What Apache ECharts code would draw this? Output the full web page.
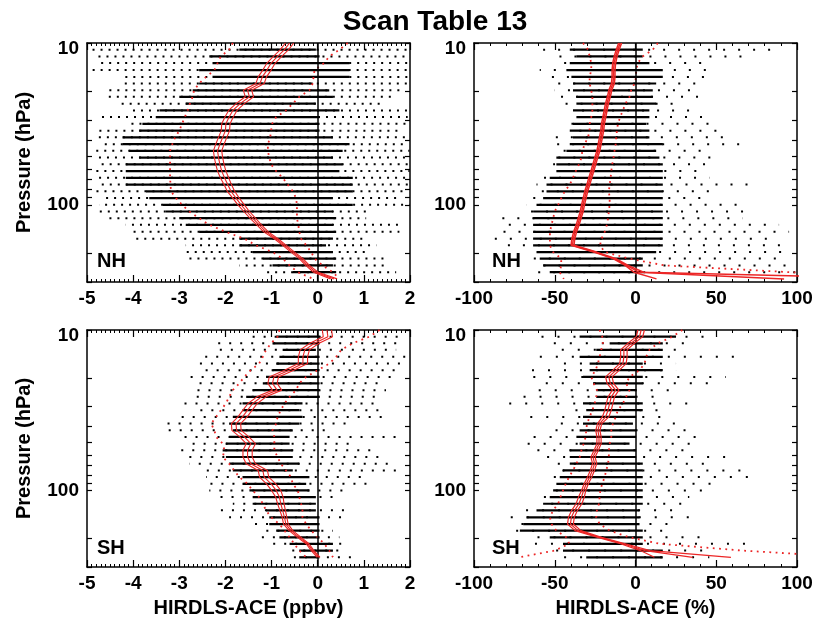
<!DOCTYPE html>
<html>
<head>
<meta charset="utf-8">
<title>Scan Table 13</title>
<script src="https://cdn.jsdelivr.net/npm/echarts@6/dist/echarts.min.js"></script>
<style>
  html, body { margin: 0; padding: 0; background: #fff; }
  #chart { width: 817px; height: 624px; }
</style>
</head>
<body>
<div id="chart"></div>
<script>
// pressure levels (hPa), top to bottom
const levels = [10.0, 11.0, 12.1, 13.3, 14.7, 16.2, 17.8, 19.6, 21.5, 23.7, 26.1, 28.7, 31.6, 34.8, 38.3, 42.2, 46.4, 51.1,
  56.2, 61.9, 68.1, 75.0, 82.5, 90.9, 100, 110, 121, 133, 147, 162, 178, 196, 215, 237, 261, 287]
const yTicks = [10, 20, 30, 40, 50, 60, 70, 80, 90, 100, 200, 300]

// NH, ppbv
const nhPpbvMean = [-0.61, -0.72, -0.87, -1.01, -1.10, -1.20, -1.25, -1.52, -1.48, -1.68, -1.84, -1.92, -1.99, -2.00, -2.06, -2.12, -2.17, -2.15,
  -2.12, -2.08, -2.02, -1.95, -1.88, -1.77, -1.66, -1.54, -1.41, -1.27, -1.12, -0.90, -0.72, -0.54, -0.36, -0.22, -0.04, 0.35]
const nhPpbvErr = [0.09, 0.09, 0.09, 0.09, 0.09, 0.09, 0.09, 0.09, 0.09, 0.09, 0.09, 0.09, 0.09, 0.09, 0.09, 0.09, 0.09, 0.09,
  0.09, 0.09, 0.09, 0.08, 0.08, 0.07, 0.07, 0.06, 0.06, 0.05, 0.05, 0.04, 0.04, 0.04, 0.04, 0.04, 0.05, 0.07]
const nhPpbvSigLo = [-1.84, -1.92, -2.10, -2.17, -2.24, -2.42, -2.57, -2.68, -2.71, -2.77, -2.82, -2.88, -2.94, -3.00, -3.09, -3.15, -3.20, -3.20,
  -3.20, -3.20, -3.20, -3.19, -3.18, -3.07, -2.94, -2.78, -2.57, -2.35, -1.99, -1.59, -1.34, -0.98, -0.76, -0.61, -0.43, -0.10]
const nhPpbvSigHi = [0.65, 0.47, 0.25, 0.14, -0.07, -0.09, -0.11, -0.18, -0.40, -0.54, -0.69, -0.90, -0.99, -1.01, -1.03, -1.08, -1.08, -1.05,
  -1.01, -0.90, -0.76, -0.65, -0.54, -0.47, -0.45, -0.45, -0.45, -0.42, -0.40, -0.36, -0.25, -0.14, -0.07, 0.11, 0.33, 0.47]
// scatter rows (levels 1..34): [outer min, dense min, dense max, outer max]
const nhPpbvRows = [
  [-4.88, -1.70, -0.04, 1.95], [-4.81, -2.35, 0.04, 1.95], [-4.81, -2.28, 0.69, 1.95], [-4.88, -2.57, 0.69, 1.95],
  [-4.23, -2.28, 0.69, 1.95], [-4.30, -2.57, -0.11, 1.99], [-4.52, -2.71, 0.25, 1.77], [-4.59, -3.00, 0.33, 1.70],
  [-4.37, -2.86, -0.04, 1.41], [-4.01, -3.43, 0.47, 1.99], [-4.74, -3.51, 0.04, 1.95], [-4.16, -3.80, 0.04, 1.99],
  [-4.74, -3.87, 0.04, 1.77], [-4.81, -4.23, 0.33, 1.95], [-4.74, -4.23, 0.69, 1.92], [-4.81, -4.09, 0.54, 1.99],
  [-4.81, -3.87, 0.33, 1.99], [-4.81, -4.16, 0.54, 1.99], [-4.81, -4.16, 0.47, 1.99], [-4.81, -4.16, 0.76, 1.99],
  [-4.81, -4.16, 0.76, 1.99], [-4.81, -3.72, 0.76, 1.92], [-4.66, -3.65, 0.33, 1.77], [-4.74, -3.36, 0.76, 1.99],
  [-4.74, -3.29, 0.33, 1.05], [-4.59, -3.00, 0.40, 1.05], [-4.16, -2.86, 0.33, 1.77], [-4.01, -2.57, 0.40, 1.77],
  [-4.01, -1.70, 0.33, 1.05], [-2.86, -1.70, 0.18, 1.27], [-2.86, -1.41, 0.33, 1.05], [-2.86, -1.19, 0.40, 1.48],
  [-1.70, -0.98, 0.33, 1.48], [-1.12, -0.54, 0.40, 1.70]
]

// NH, percent
const nhPctMean = [-9.5, -11, -12.3, -13.2, -13.6, -13.6, -14, -15.6, -16.5, -17.7, -18.5, -19.3, -20.2, -20.6, -21.4, -22.2, -23, -24.3,
  -25.5, -26.7, -28, -29.2, -30.5, -31.5, -32.5, -33.3, -34.6, -35.8, -37.4, -38.5, -39, -25, -13, -5.5, 2, 92]
const nhPctErr = [0.9, 0.9, 0.9, 0.9, 0.9, 0.9, 0.9, 0.9, 0.9, 0.9, 0.9, 0.9, 0.9, 0.9, 0.9, 0.9, 0.9, 0.9,
  0.9, 0.9, 0.9, 0.9, 0.9, 0.9, 0.9, 0.9, 0.9, 0.9, 0.9, 0.9, 0.9, 0.9, 0.9, 0.9, 3, 79]
const nhPctSigLo = [-32.5, -29.4, -28.4, -27.4, -27.4, -28.4, -28.4, -27.4, -26.7, -26.7, -26.7, -27.4, -28.4, -28.4, -29.4, -31.5, -32.9, -33.5,
  -35, -37, -38.7, -40.7, -43.8, -45.9, -47.9, -50, -51, -52, -53, -53, -53, -51, -46, -46, -47, -44.4]
const nhPctSigHi = [13.8, 10.7, 4.5, 1.4, 0.4, 0.4, -0.6, -2.7, -3.7, -6.2, -7.8, -9.5, -10.9, -11.5, -11.9, -12.3, -13, -13.6,
  -14.4, -15, -15.4, -16, -16.5, -16, -16, -16.5, -17, -17.7, -19.1, -21, -22, -19, -4, 18, 96, 175]
const nhPctRows = [
  [-57.2, -40.7, 4.5, 85.8], [-53.1, -36.6, 4.5, 70.4], [-46.9, -40.7, 8.6, 41.6], [-59.3, -42.8, 16.9, 43.6],
  [-57.2, -39.7, 16.9, 43.6], [-50, -38.7, 12.8, 43.6], [-50, -38.7, 10.7, 41.6], [-51, -36.6, 10.7, 41.6],
  [-44.9, -36.6, 12.8, 29.2], [-40.7, -38.7, 8.6, 39.5], [-38.7, -36.6, 8.6, 47.7], [-40.7, -38.7, 6.6, 45.7],
  [-41.8, -40.7, 8.6, 58], [-53.1, -38.7, 8.6, 58], [-49, -40.7, 16.9, 64.2], [-51, -42.8, 12.8, 47.7],
  [-51, -49, 14.8, 47.7], [-51, -49, 16.9, 43.6], [-53.1, -49, 16.9, 41.6], [-59.3, -53.1, 16.9, 45.7],
  [-61.3, -55.1, 16.9, 72.4], [-63.4, -55.1, 16.9, 45.7], [-65.4, -57.2, 16.9, 45.7], [-67.5, -61.3, 16.9, 66.3],
  [-69.5, -63.4, 16.9, 72.4], [-84, -63.4, 16.9, 66.3], [-86, -63.4, 16.9, 88.9], [-86, -63.4, 16.9, 95.1],
  [-88.1, -63.4, 16.9, 88.9], [-86, -63.4, 16.9, 97.1], [-63.4, -61.3, 12.8, 90.9], [-63.4, -59.3, 4.5, 93],
  [-63.4, -57.2, 4.5, 99.2], [-63.4, -53.1, 4.5, 99.2]
]

// SH, ppbv
const shPpbvMean = [0.2, 0.22, -0.07, -0.28, -0.32, -0.32, -0.62, -0.95, -0.98, -0.88, -1.22, -1.41, -1.52, -1.63, -1.77, -1.76, -1.59, -1.45,
  -1.52, -1.52, -1.45, -1.19, -1.16, -1.01, -0.9, -0.83, -0.8, -0.76, -0.72, -0.69, -0.58, -0.4, -0.22, -0.11, 0.02]
const shPpbvErr = [0.1, 0.1, 0.1, 0.1, 0.1, 0.1, 0.1, 0.1, 0.1, 0.1, 0.1, 0.1, 0.1, 0.1, 0.1, 0.1, 0.1, 0.1,
  0.1, 0.1, 0.1, 0.1, 0.1, 0.1, 0.1, 0.08, 0.07, 0.06, 0.05, 0.05, 0.04, 0.04, 0.03, 0.03, 0.03]
const shPpbvSigLo = [-0.83, -0.87, -1.01, -1.12, -1.19, -1.27, -1.45, -1.59, -1.70, -1.84, -1.92, -1.99, -2.10, -2.20, -2.31, -2.24, -2.20, -2.06,
  -2.02, -2.06, -1.92, -1.81, -1.70, -1.52, -1.41, -1.27, -1.19, -1.12, -1.01, -0.83, -0.72, -0.61, -0.51, -0.40, -0.25]
const shPpbvSigHi = [1.34, 1.12, 0.76, 0.51, 0.40, 0.25, 0.00, -0.25, -0.40, -0.47, -0.61, -0.72, -0.80, -0.87, -0.90, -0.98, -0.94, -0.94,
  -0.94, -0.87, -0.80, -0.69, -0.58, -0.54, -0.43, -0.40, -0.36, -0.33, -0.33, -0.25, -0.14, 0.00, 0.14, 0.25, 0.33]
const shPpbvRows = [
  [-1.41, -0.90, 0.04, 1.84], [-2.28, -0.98, 0.04, 1.84], [-2.13, -0.76, -0.04, 1.70], [-2.57, -0.83, 0.04, 1.92],
  [-2.57, -0.90, 0.04, 1.92], [-2.57, -0.98, 0.04, 1.77], [-2.78, -1.12, 0.04, 1.70], [-2.71, -1.19, 0.04, 1.34],
  [-2.64, -1.41, 0.04, 1.48], [-2.78, -1.55, 0.04, 1.27], [-2.93, -1.63, -0.33, 1.27], [-2.71, -1.63, -0.40, 1.48],
  [-3.00, -1.84, -0.33, 1.48], [-3.43, -1.92, -0.40, 0.69], [-3.29, -1.84, -0.54, 0.33], [-3.07, -1.92, -0.61, 1.70],
  [-2.78, -1.99, -0.61, 0.76], [-3.15, -2.06, -0.54, 1.27], [-2.86, -1.99, -0.54, 1.34], [-2.78, -1.92, -0.40, 1.62],
  [-2.49, -1.84, -0.54, 1.70], [-2.42, -1.63, -0.18, 1.12], [-2.42, -1.63, -0.25, 1.12], [-2.35, -1.48, -0.18, 0.61],
  [-2.21, -1.41, -0.04, 0.33], [-1.84, -1.41, -0.04, 0.04], [-2.21, -1.12, -0.04, 0.61], [-1.92, -1.05, 0.04, 0.69],
  [-1.48, -1.05, 0.04, 0.04], [-1.12, -0.90, 0.04, 0.33], [-1.34, -0.83, 0.04, 0.47], [-0.98, -0.61, 0.33, 0.54],
  [-0.69, -0.40, 0.33, 0.61], [-0.54, -0.40, 0.04, 0.90]
]

// SH, percent
const shPctMean = [3.5, 2.5, -2.7, -7.2, -7.2, -7.8, -12, -16.5, -15.6, -12.3, -15, -16, -17, -18.5, -22.2, -23.3, -22.6, -22.6,
  -24.3, -26.3, -25.3, -26.7, -28.4, -30.5, -32.1, -33.5, -35, -37.7, -39.7, -40.3, -35.6, -22.2, -7.8, 6, 35.4]
const shPctErr = [2, 2, 2, 2, 2, 2, 2, 2, 2, 2, 2, 2, 2, 2, 1.3, 1.3, 1.3, 1.3,
  1.3, 1.3, 1.3, 1.3, 1.3, 1.3, 1.3, 1.8, 1.8, 1.8, 1.8, 1.8, 1.8, 1.2, 1.5, 3, 23.7]
const shPctSigLo = [-22.2, -20.6, -20.2, -21.2, -22.2, -23.3, -24.7, -27.4, -25.9, -23.9, -24.3, -25.3, -26.7, -28.4, -30, -30.5, -30.9, -32.1,
  -33.5, -34.6, -36.6, -38.7, -41.2, -43.2, -44.9, -46.5, -47.9, -51, -53, -52, -49, -42.8, -41, -50, -72]
const shPctSigHi = [29, 23, 13.8, 8.6, 6.6, 5.6, 2.5, -3.7, -5.8, -3.7, -5.8, -7.8, -10.9, -12.3, -14, -15, -15, -16,
  -16.5, -16.5, -17, -18.1, -19.1, -20.6, -21.8, -22.2, -22.6, -23.9, -24.3, -22.2, -16, -3.7, 15, 66, 135]
const shPctRows = [
  [-58.2, -34.6, 25.1, 50.8], [-57.2, -16, 16.9, 36.4], [-49, -24.3, 16.9, 27.2], [-59.3, -34.6, 16.9, 65.2],
  [-51, -28.4, 4.5, 25.1], [-67.5, -28.4, 16.9, 25.1], [-63.4, -32.5, 4.5, 56], [-62.3, -26.3, 4.5, 49.8],
  [-63.4, -24.3, 0.4, 21], [-69.5, -24.3, 0.4, 16.9], [-85, -32.5, 4.5, 37.4], [-40.7, -30.5, 4.5, 16.9],
  [-65.4, -32.5, 0.4, 18.9], [-53.1, -32.5, -1.6, 32.3], [-53.1, -34.6, 0.4, 33.3], [-63.4, -36.6, 0.4, 44.7],
  [-73.7, -34.6, -3.7, 39.5], [-64.4, -40.7, 0.4, 37.4], [-55.1, -40.7, 0.4, 60.1], [-55.1, -40.7, 4.5, 43.6],
  [-49, -44.9, 4.5, 73.5], [-51, -46.9, 4.5, 75.5], [-51, -49, 4.5, 53.9], [-53.1, -51, 4.5, 43.6],
  [-57.2, -53.1, 4.5, 33.3], [-59.3, -57.2, 4.5, 31.3], [-71.6, -61.3, 2.5, 25.1], [-77.8, -67.5, 2.5, 33.3],
  [-77.8, -69.5, 2.5, 21], [-77.8, -71.6, 4.5, 25.1], [-61.3, -53.1, 4.5, 43.6], [-69.5, -44.9, 4.5, 72.4],
  [-53.1, -44.9, 16.9, 45.7], [-44.9, -30.5, 16.9, 45.7]
]

const RED = '#ec2626'
const FONT = 'Liberation Sans'
const labelFont = { color: '#000', fontFamily: FONT, fontWeight: 'bold', fontSize: 19 }
const nameFont = { color: '#000', fontFamily: FONT, fontWeight: 'bold', fontSize: 20 }

// dotGap: spacing of the sparse dots outside the dense core of each row
const panels = [
  { grid: { left: 87, top: 43, width: 323, height: 239 }, range: [-5, 2, 1, 10], dotGap: 6, lineW: 1.1, yName: 'Pressure (hPa)', xName: '',
    mean: nhPpbvMean, err: nhPpbvErr, sigLo: nhPpbvSigLo, sigHi: nhPpbvSigHi, rows: nhPpbvRows },
  { grid: { left: 474, top: 43, width: 323, height: 239 }, range: [-100, 100, 50, 5], dotGap: 13, lineW: 1.5, yName: '', xName: '',
    mean: nhPctMean, err: nhPctErr, sigLo: nhPctSigLo, sigHi: nhPctSigHi, rows: nhPctRows },
  { grid: { left: 87, top: 330, width: 323, height: 237 }, range: [-5, 2, 1, 10], dotGap: 9, lineW: 1.1, yName: 'Pressure (hPa)', xName: 'HIRDLS-ACE (ppbv)',
    mean: shPpbvMean, err: shPpbvErr, sigLo: shPpbvSigLo, sigHi: shPpbvSigHi, rows: shPpbvRows },
  { grid: { left: 474, top: 330, width: 323, height: 237 }, range: [-100, 100, 50, 5], dotGap: 14, lineW: 1.2, yName: '', xName: 'HIRDLS-ACE (%)',
    mean: shPctMean, err: shPctErr, sigLo: shPctSigLo, sigHi: shPctSigHi, rows: shPctRows }
]

const frame = { show: true, onZero: false, lineStyle: { color: '#000', width: 1.5 } }

function xAxesFor(g, p) {
  const [min, max, interval, minor] = p.range
  const base = {
    gridIndex: g, type: 'value', min, max, interval,
    axisLine: frame,
    axisTick: { show: true, inside: true, length: 7, lineStyle: { color: '#000', width: 1.2 } },
    minorTick: { show: true, splitNumber: minor, length: 3, lineStyle: { color: '#000', width: 1 } },
    splitLine: { show: false }
  }
  return [
    { ...base, position: 'bottom', axisLabel: { ...labelFont, margin: 7 },
      name: p.xName, nameLocation: 'middle', nameGap: 31, nameTextStyle: nameFont },
    { ...base, position: 'top', axisLabel: { show: false } }
  ]
}

function yAxesFor(g, p) {
  const base = {
    gridIndex: g, type: 'log', logBase: 10, inverse: true, min: 10, max: 300,
    axisLine: frame,
    axisTick: { show: true, inside: true, length: 5, customValues: yTicks, lineStyle: { color: '#000', width: 1.2 } },
    splitLine: { show: false }
  }
  return [
    { ...base, position: 'left',
      axisLabel: {
        ...labelFont, margin: 8, customValues: [10, 100],
        formatter: v => Math.round(v) === 10 ? '{t|10}' : String(Math.round(v)),
        rich: { t: { ...labelFont, padding: [12, 0, 0, 0] } }
      },
      name: p.yName, nameLocation: 'middle', nameGap: 53, nameTextStyle: nameFont },
    { ...base, position: 'right', axisLabel: { show: false } }
  ]
}

function rowRenderer(dotGap) {
  return function (params, api) {
    const p = api.value(0)
    const a = api.coord([api.value(1), p])
    const b = api.coord([api.value(2), p])
    const c = api.coord([api.value(3), p])
    const d = api.coord([api.value(4), p])
    // shift the dot pattern from row to row so the dots don't line up in columns
    const shift = (params.dataIndex * 5.3) % (dotGap + 2)
    return {
      type: 'group',
      children: [
        { type: 'line', shape: { x1: a[0], y1: a[1], x2: d[0], y2: d[1] },
          style: { stroke: '#000', lineWidth: 2, lineDash: [2, dotGap], lineDashOffset: shift } },
        { type: 'line', shape: { x1: b[0], y1: b[1], x2: c[0], y2: c[1] },
          style: { stroke: '#000', lineWidth: 2.2 } }
      ]
    }
  }
}

function seriesFor(g, p) {
  const axes = { xAxisIndex: 2 * g, yAxisIndex: 2 * g }
  const out = []
  out.push({
    ...axes, type: 'custom', renderItem: rowRenderer(p.dotGap), clip: true, silent: true, z: 2,
    encode: { x: [1, 2, 3, 4], y: 0 },
    data: p.rows.map((r, i) => [levels[i + 1], ...r])
  })
  const dotted = { color: RED, width: 1.8, type: [1.8, 4.5] }
  out.push({
    ...axes, type: 'line', symbol: 'none', silent: true, z: 4, lineStyle: dotted,
    data: p.sigLo.map((v, i) => [v, levels[i]]),
    markLine: {
      silent: true, symbol: ['none', 'none'], label: { show: false },
      lineStyle: { color: '#000', width: 1.5, type: 'solid' },
      data: [{ xAxis: 0 }]
    }
  })
  out.push({
    ...axes, type: 'line', symbol: 'none', silent: true, z: 4, lineStyle: dotted,
    data: p.sigHi.map((v, i) => [v, levels[i]])
  })
  for (const s of [-1, 0, 1]) {
    out.push({
      ...axes, type: 'line', symbol: 'none', silent: true, z: 6,
      lineStyle: { color: RED, width: p.lineW },
      data: p.mean.map((m, i) => [m + s * p.err[i], levels[i]])
    })
  }
  return out
}

const chart = echarts.init(document.getElementById('chart'), null, { renderer: 'canvas' })

chart.setOption({
  animation: false,
  backgroundColor: '#fff',
  title: {
    text: 'Scan Table 13', left: 430, top: 3, textAlign: 'center',
    textStyle: { color: '#000', fontFamily: FONT, fontWeight: 'bold', fontSize: 28 }
  },
  grid: panels.map(p => ({ ...p.grid, containLabel: false })),
  xAxis: panels.flatMap((p, g) => xAxesFor(g, p)),
  yAxis: panels.flatMap((p, g) => yAxesFor(g, p)),
  series: panels.flatMap((p, g) => seriesFor(g, p)),
  graphic: [
    { type: 'text', x: 97, y: 251, z: 10, style: { text: 'NH', font: 'bold 20px "Liberation Sans"', fill: '#000' } },
    { type: 'text', x: 492, y: 251, z: 10, style: { text: 'NH', font: 'bold 20px "Liberation Sans"', fill: '#000' } },
    { type: 'text', x: 97, y: 538, z: 10, style: { text: 'SH', font: 'bold 20px "Liberation Sans"', fill: '#000' } },
    { type: 'text', x: 492, y: 538, z: 10, style: { text: 'SH', font: 'bold 20px "Liberation Sans"', fill: '#000' } }
  ]
})
</script>
</body>
</html>
